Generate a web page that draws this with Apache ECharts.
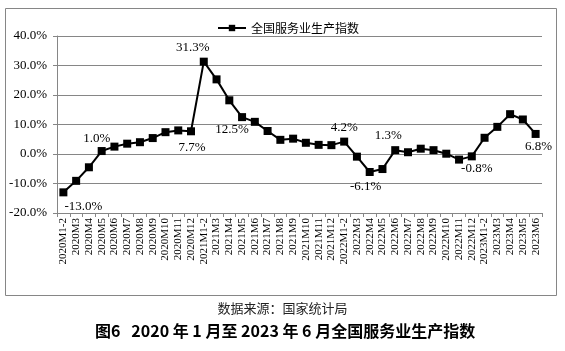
<!DOCTYPE html>
<html>
<head>
<meta charset="utf-8">
<script src="https://cdn.jsdelivr.net/npm/echarts@6/dist/echarts.min.js"></script>
<style>
  html, body { margin: 0; padding: 0; background: #fff; }
  #main { width: 565px; height: 351px; }
</style>
</head>
<body>
<div id="main"></div>
<script>
// months shown on the x axis
const categories = [
  '2020M1-2', '2020M3', '2020M4', '2020M5', '2020M6', '2020M7', '2020M8', '2020M9', '2020M10', '2020M11', '2020M12',
  '2021M1-2', '2021M3', '2021M4', '2021M5', '2021M6', '2021M7', '2021M8', '2021M9', '2021M10', '2021M11', '2021M12',
  '2022M1-2', '2022M3', '2022M4', '2022M5', '2022M6', '2022M7', '2022M8', '2022M9', '2022M10', '2022M11', '2022M12',
  '2023M1-2', '2023M3', '2023M4', '2023M5', '2023M6'
];
// 全国服务业生产指数 同比增速 (%)
const values = [
  -13.0, -9.1, -4.5, 1.0, 2.5, 3.5, 4.0, 5.4, 7.4, 8.0, 7.7,
  31.3, 25.3, 18.2, 12.5, 10.9, 7.8, 4.8, 5.2, 3.8, 3.1, 3.0,
  4.2, -0.9, -6.1, -5.1, 1.3, 0.6, 1.8, 1.3, 0.1, -1.9, -0.8,
  5.5, 9.2, 13.5, 11.7, 6.8
];
const seriesName = '全国服务业生产指数';
// points that carry a value label
const labelled = [0, 3, 10, 11, 14, 22, 24, 26, 32, 37];
const yTicks = { min: -20, max: 40, step: 10 };

const serif = '"Liberation Serif", "Noto Sans CJK SC", serif';
const cjk = '"Noto Sans CJK SC", sans-serif';

// label placement per labelled point
const labelPlace = {
  0: { position: 'bottom', offset: [20, 0] },
  3: { position: 'top', offset: [-5, 2] },
  10: { position: 'bottom', offset: [1, 2] },
  11: { position: 'top', offset: [-11, 0] },
  14: { position: 'bottom', offset: [-10, -2] },
  22: { position: 'top', offset: [0, 0] },
  24: { position: 'bottom', offset: [-4, 0] },
  26: { position: 'top', offset: [-7, 0] },
  32: { position: 'bottom', offset: [5, -2] },
  37: { position: 'bottom', offset: [3, -2] }
};

const data = values.map((v, i) => {
  if (labelled.indexOf(i) < 0) return v;
  const p = labelPlace[i];
  return {
    value: v,
    label: {
      show: true,
      position: p.position,
      offset: p.offset,
      distance: 4,
      formatter: v.toFixed(1) + '%',
      fontFamily: serif,
      fontSize: 13,
      color: '#000'
    }
  };
});

const chart = echarts.init(document.getElementById('main'), null, { renderer: 'canvas' });
chart.setOption({
  animation: false,
  backgroundColor: '#fff',
  graphic: [
    {
      type: 'rect',
      shape: { x: 5.5, y: 8.5, width: 551, height: 287 },
      style: { fill: 'none', stroke: '#868686', lineWidth: 1 },
      silent: true
    },
    {
      type: 'text',
      left: 'center',
      top: 302,
      style: { text: '数据来源：国家统计局', font: '13px ' + cjk, fill: '#222' }
    },
    {
      type: 'text',
      left: 95,
      top: 323,
      style: { text: '图6   2020 年 1 月至 2023 年 6 月全国服务业生产指数', font: 'bold 16px ' + cjk, fill: '#000' }
    }
  ],
  legend: {
    data: [seriesName],
    left: 212,
    top: 17,
    itemWidth: 28,
    itemHeight: 8,
    itemGap: 4,
    textStyle: { fontFamily: cjk, fontSize: 12, color: '#000' }
  },
  grid: { left: 57, right: 23, top: 36, bottom: 138 },
  xAxis: {
    type: 'category',
    data: categories,
    boundaryGap: true,
    axisLine: { onZero: false, lineStyle: { color: '#868686', width: 1 } },
    axisTick: { show: true, interval: 0, length: 4, lineStyle: { color: '#868686' } },
    axisLabel: {
      interval: 0,
      rotate: 90,
      margin: 5,
      fontFamily: serif,
      fontSize: 11,
      color: '#000'
    }
  },
  yAxis: {
    type: 'value',
    min: yTicks.min,
    max: yTicks.max,
    interval: yTicks.step,
    axisLine: { show: true, lineStyle: { color: '#868686', width: 1 } },
    axisTick: { show: true, length: 4, lineStyle: { color: '#868686' } },
    axisLabel: {
      formatter: v => v.toFixed(1) + '%',
      fontFamily: serif,
      fontSize: 13,
      color: '#000',
      margin: 10
    },
    splitLine: { lineStyle: { color: '#868686', width: 1 } }
  },
  series: [{
    name: seriesName,
    type: 'line',
    data: data,
    symbol: 'rect',
    symbolSize: 8,
    itemStyle: { color: '#000' },
    lineStyle: { color: '#000', width: 2 }
  }]
});
</script>
</body>
</html>
